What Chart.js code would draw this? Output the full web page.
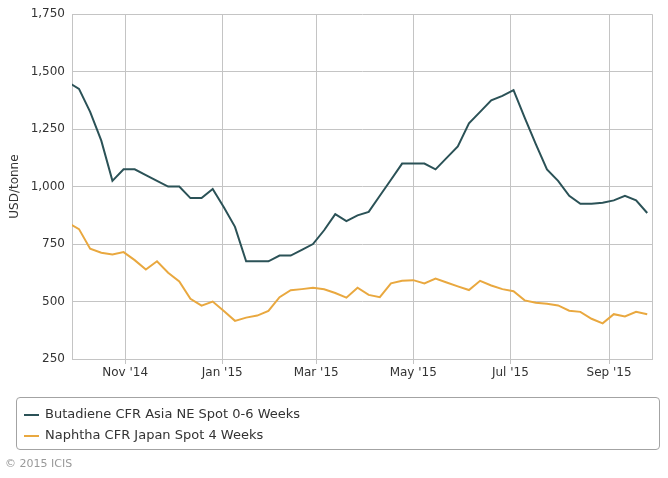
<!DOCTYPE html>
<html>
<head>
<meta charset="utf-8">
<script src="https://cdn.jsdelivr.net/npm/chart.js@4.4.1/dist/chart.umd.min.js"></script>
<style>
  body { margin: 0; background: #fff; font-family: "DejaVu Sans", sans-serif; }
  #wrap { position: relative; width: 668px; height: 478px; }
  #legend {
    position: absolute; left: 16px; top: 397px; width: 644px; height: 53px;
    border: 1px solid #a3a3a3; border-radius: 4px; box-sizing: border-box;
    padding-top: 5px;
  }
  .item { height: 21px; line-height: 21px; font-size: 13px; color: #333; white-space: nowrap; }
  .swatch { display: inline-block; width: 15px; height: 2px; margin: 0 6px 0 7px; vertical-align: middle; }
  #copy { position: absolute; left: 5px; top: 457px; font-size: 11px; color: #999; }
</style>
</head>
<body>
<div id="wrap">
  <canvas id="myChart" width="668" height="478"></canvas>
  <div id="legend"></div>
  <div id="copy">© 2015 ICIS</div>
</div>
<script>
// weekly assessment dates (Fridays)
const weeks = [
  '2014-09-26', '2014-10-03', '2014-10-10', '2014-10-17', '2014-10-24', '2014-10-31',
  '2014-11-07', '2014-11-14', '2014-11-21', '2014-11-28', '2014-12-05', '2014-12-12',
  '2014-12-19', '2014-12-26', '2015-01-02', '2015-01-09', '2015-01-16', '2015-01-23',
  '2015-01-30', '2015-02-06', '2015-02-13', '2015-02-20', '2015-02-27', '2015-03-06',
  '2015-03-13', '2015-03-20', '2015-03-27', '2015-04-03', '2015-04-10', '2015-04-17',
  '2015-04-24', '2015-05-01', '2015-05-08', '2015-05-15', '2015-05-22', '2015-05-29',
  '2015-06-05', '2015-06-12', '2015-06-19', '2015-06-26', '2015-07-03', '2015-07-10',
  '2015-07-17', '2015-07-24', '2015-07-31', '2015-08-07', '2015-08-14', '2015-08-21',
  '2015-08-28', '2015-09-04', '2015-09-11', '2015-09-18', '2015-09-25'
];

const butadiene = [
  1455, 1425, 1325, 1200, 1025, 1075, 1075, 1050, 1025, 1000, 1000, 950,
  950, 990, 910, 825, 675, 675, 675, 700, 700, 725, 750, 810,
  880, 850, 875, 890, 960, 1030, 1100, 1100, 1100, 1075, 1125, 1175,
  1275, 1325, 1375, 1395, 1420, 1300, 1185, 1075, 1025, 960, 925, 925,
  930, 940, 960, 940, 885
];

const naphtha = [
  842, 815, 730, 712, 705, 715, 680, 639, 675, 625, 587, 512,
  482, 500, 459, 416, 430, 439, 459, 519, 549, 554, 560, 553,
  537, 517, 560, 529, 519, 579, 590, 593, 579, 600, 583, 566,
  550, 590, 570, 554, 545, 505, 495, 490, 483, 460, 455, 425,
  405, 445, 435, 455, 445
];

const tickDates = ['2014-11-01', '2015-01-01', '2015-03-01', '2015-05-01', '2015-07-01', '2015-09-01'];
const tickLabels = ["Nov '14", "Jan '15", "Mar '15", "May '15", "Jul '15", "Sep '15"];
const axisStart = '2014-09-29';
const axisEnd = '2015-09-28';

const seriesNames = ['Butadiene CFR Asia NE Spot 0-6 Weeks', 'Naphtha CFR Japan Spot 4 Weeks'];
const colors = ['#2b5257', '#e9a83f'];

function dayNum(s) {
  const p = s.split('-');
  return Date.UTC(+p[0], +p[1] - 1, +p[2]) / 864e5;
}

const tickDays = tickDates.map(dayNum);

function points(vals) {
  return vals.map(function (v, i) { return { x: dayNum(weeks[i]), y: v }; });
}

const rightBorder = {
  id: 'rightBorder',
  afterDraw: function (chart) {
    const a = chart.chartArea, c = chart.ctx;
    c.save();
    c.strokeStyle = '#c4c4c4';
    c.lineWidth = 1;
    c.beginPath();
    c.moveTo(Math.round(a.right) + 0.5, a.top);
    c.lineTo(Math.round(a.right) + 0.5, a.bottom);
    c.stroke();
    c.restore();
  }
};

const ctx = document.getElementById('myChart');

new Chart(ctx, {
  type: 'line',
  data: {
    datasets: [
      { label: seriesNames[0], data: points(butadiene), borderColor: colors[0], borderWidth: 2, pointRadius: 0, tension: 0 },
      { label: seriesNames[1], data: points(naphtha), borderColor: colors[1], borderWidth: 2, pointRadius: 0, tension: 0 }
    ]
  },
  options: {
    responsive: false,
    animation: false,
    devicePixelRatio: 1,
    layout: { padding: { left: 0, right: 16, top: 10, bottom: 89 } },
    plugins: { legend: { display: false }, tooltip: { enabled: false } },
    scales: {
      x: {
        type: 'linear',
        min: dayNum(axisStart) - 0.4,
        max: dayNum(axisEnd),
        afterBuildTicks: function (scale) {
          scale.ticks = tickDays.map(function (d) { return { value: d }; });
        },
        afterFit: function (scale) { scale.height = 30; },
        ticks: {
          autoSkip: false,
          maxRotation: 0,
          padding: 2,
          color: '#333',
          font: { family: 'DejaVu Sans', size: 12 },
          callback: function (v) { return tickLabels[tickDays.indexOf(v)]; }
        },
        grid: { color: '#c4c4c4', tickLength: 5 },
        border: { color: '#c4c4c4' }
      },
      y: {
        min: 250,
        max: 1750,
        afterBuildTicks: function (scale) {
          const t = [];
          for (let v = 250; v <= 1750; v += 250) t.push({ value: v });
          scale.ticks = t;
        },
        afterFit: function (scale) { scale.width = 72; },
        ticks: {
          padding: 7,
          color: '#333',
          font: { family: 'DejaVu Sans', size: 12 },
          callback: function (v) { return v.toLocaleString('en-US'); }
        },
        grid: { color: '#c4c4c4', drawTicks: false },
        border: { color: '#c4c4c4' },
        title: {
          display: true,
          text: 'USD/tonne',
          color: '#333',
          font: { family: 'DejaVu Sans', size: 12 },
          padding: { top: 8, bottom: 0 }
        }
      }
    }
  },
  plugins: [rightBorder]
});

// legend built from the series
const legend = document.getElementById('legend');
seriesNames.forEach(function (name, i) {
  const row = document.createElement('div');
  row.className = 'item';
  row.innerHTML = '<span class="swatch" style="background:' + colors[i] + '"></span>' + name;
  legend.appendChild(row);
});
</script>
</body>
</html>
